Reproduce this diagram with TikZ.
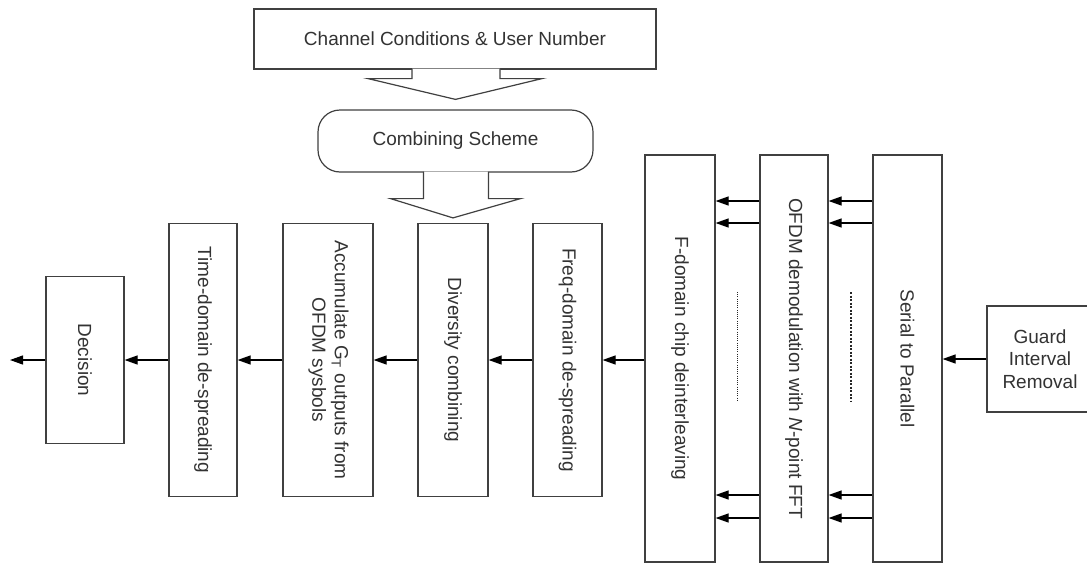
\documentclass[tikz,border=0pt]{standalone}
\usepackage{fontspec}
\setmainfont{Liberation Sans}
\usetikzlibrary{arrows.meta,calc}

\begin{document}
\begin{tikzpicture}[x=1pt,y=-1pt,
  box/.style={draw=black!75,line width=1.2pt,fill=white,inner sep=0pt,align=center,
    text=black!80,font=\fontsize{19}{22.5}\selectfont},
  link/.style={draw=black,line width=1.2pt,-{Triangle[length=13pt,width=9pt]}},
  bigarrow/.style={draw=black!75,line width=1.2pt,fill=white}]
\useasboundingbox (0,0) rectangle (1087,565);
\node[box,minimum width=402,minimum height=60] (chan) at (455,39) {Channel Conditions \& User Number};
\node[box,minimum width=275,minimum height=62,rounded corners=22pt] (comb) at (455.5,141) {Combining Scheme};
\node[box,minimum width=78,minimum height=167] (dec) at (85,360) {\rotatebox{-90}{Decision}};
\node[box,minimum width=68,minimum height=273] (time) at (203,360) {\rotatebox{-90}{Time-domain de-spreading}};
\node[box,minimum width=90,minimum height=273] (acc) at (328,360) {\rotatebox{-90}{\begin{tabular}{@{}c@{}}Accumulate G\textsubscript{T} outputs from\\OFDM sysbols\end{tabular}}};
\node[box,minimum width=70,minimum height=273] (div) at (453,360) {\rotatebox{-90}{Diversity combining}};
\node[box,minimum width=69,minimum height=273] (freq) at (567.5,360) {\rotatebox{-90}{Freq-domain de-spreading}};
\node[box,minimum width=70,minimum height=407] (fch) at (680,358.5) {\rotatebox{-90}{F-domain chip deinterleaving}};
\node[box,minimum width=68,minimum height=407] (ofdm) at (794,358.5) {\rotatebox{-90}{OFDM demodulation with \textit{N}-point FFT}};
\node[box,minimum width=69,minimum height=407] (s2p) at (907.5,358.5) {\rotatebox{-90}{Serial to Parallel}};
\node[box,minimum width=106,minimum height=106] (guard) at (1040,359) {Guard\\Interval\\Removal};
\coordinate (out) at (10,360);
\draw[bigarrow] ([xshift=-43pt,yshift=1pt]chan.south) |- ([xshift=-87pt,yshift=-9pt]chan.south)
  -- ([yshift=10pt]comb.north) -- ([xshift=87pt,yshift=-9pt]chan.south) -| ([xshift=45pt,yshift=1pt]chan.south);
\draw[bigarrow] ([xshift=-32pt,yshift=1pt]comb.south) |- ([xshift=-65pt,yshift=-26pt]comb.south)
  -- ([yshift=5pt]div.north) -- ([xshift=65pt,yshift=-26pt]comb.south) -| ([xshift=33pt,yshift=1pt]comb.south);
\draw[link] (guard.west) -- (guard.west -| s2p.east);
\foreach \yy in {201,223,495,518} {
  \draw[link] (s2p.west |- 0,\yy) -- (ofdm.east |- 0,\yy);
  \draw[link] (ofdm.west |- 0,\yy) -- (fch.east |- 0,\yy);
}
\draw[black!85,line width=1.5pt,dash pattern=on 1pt off 1.2pt] (737.5,292) -- (737.5,402);
\draw[black!85,line width=1.5pt,dash pattern=on 2.2pt off 1.3pt] (851,292) -- (851,402);
\draw[link] (fch.west |- freq.east) -- (freq.east);
\draw[link] (freq.west) -- (div.east);
\draw[link] (div.west) -- (acc.east);
\draw[link] (acc.west) -- (time.east);
\draw[link] (time.west) -- (dec.east);
\draw[link] (dec.west) -- (out);
\end{tikzpicture}
\end{document}
